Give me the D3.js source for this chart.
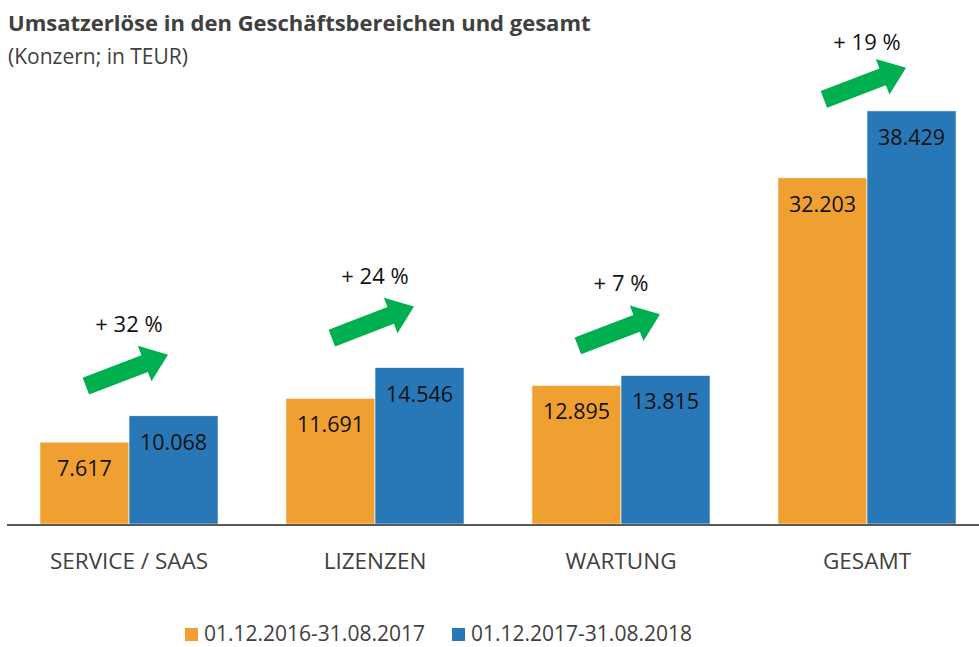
<!DOCTYPE html>
<html>
<head>
<meta charset="utf-8">
<script src="https://cdn.jsdelivr.net/npm/d3@7"></script>
<style>
  body { margin: 0; background: #fff; }
  svg text { font-family: "Open Sans", "Noto Sans", sans-serif; }
</style>
</head>
<body>
<svg id="chart" width="979" height="647"></svg>
<script>
// Daten
const categories = ["SERVICE / SAAS", "LIZENZEN", "WARTUNG", "GESAMT"]
const seriesNames = ["01.12.2016-31.08.2017", "01.12.2017-31.08.2018"]
const values2017 = [7617, 11691, 12895, 32203]
const values2018 = [10068, 14546, 13815, 38429]

const colors = ["#F0A030", "#2878B8"]
const fmt = d3.formatLocale({ decimal: ",", thousands: ".", grouping: [3], currency: ["", "€"] }).format(",d")

const svg = d3.select("#chart")
const baseY = 524

// Skalen
const x0 = d3.scaleBand()
  .domain(categories)
  .range([6, 990])
  .paddingInner(0.276)
  .paddingOuter(0.138)

const x1 = d3.scaleBand()
  .domain([0, 1])
  .range([0, x0.bandwidth()])

const y = d3.scaleLinear()
  .domain([0, 40000])
  .range([baseY, baseY - 430])

const rows = categories.map((c, i) => ({ cat: c, vals: [values2017[i], values2018[i]] }))

// Titel
svg.append("text")
  .attr("x", 8).attr("y", 31)
  .attr("font-size", 22).attr("font-weight", "bold")
  .attr("fill", "#404040")
  .text("Umsatzerlöse in den Geschäftsbereichen und gesamt")
svg.append("text")
  .attr("x", 8).attr("y", 64)
  .attr("font-size", 21)
  .attr("fill", "#404040")
  .text("(Konzern; in TEUR)")

// Balken
const groups = svg.selectAll("g.grp")
  .data(rows)
  .enter()
  .append("g")
  .attr("class", "grp")
  .attr("transform", d => "translate(" + x0(d.cat) + ",0)")

groups.selectAll("rect")
  .data(d => d.vals.map((v, k) => ({ v, k })))
  .enter()
  .append("rect")
  .attr("x", d => x1(d.k))
  .attr("y", d => y(d.v))
  .attr("width", x1.bandwidth())
  .attr("height", d => baseY - y(d.v))
  .attr("fill", d => colors[d.k])
  .attr("stroke", "#fff")
  .attr("stroke-width", 0.6)

groups.selectAll("text.val")
  .data(d => d.vals.map((v, k) => ({ v, k })))
  .enter()
  .append("text")
  .attr("class", "val")
  .attr("x", d => x1(d.k) + x1.bandwidth() / 2)
  .attr("y", d => y(d.v) + 34)
  .attr("text-anchor", "middle")
  .attr("font-size", 21.5)
  .attr("fill", "#111")
  .text(d => fmt(d.v))

// Achse
svg.append("line")
  .attr("x1", 7).attr("x2", 979)
  .attr("y1", baseY + 1).attr("y2", baseY + 1)
  .attr("stroke", "#595959")
  .attr("stroke-width", 2)

const xAxis = svg.append("g")
  .attr("transform", "translate(0," + baseY + ")")
  .call(d3.axisBottom(x0).tickSize(0))
xAxis.select(".domain").remove()
xAxis.selectAll("text")
  .attr("y", 45)
  .attr("dy", 0)
  .attr("font-size", 22.5)
  .attr("fill", "#404040")
  .style("font-family", "'Open Sans', 'Noto Sans', sans-serif")

// Pfeile mit Zuwachs
const arrowPath = "M-43,-9 L20,-9 L20,-19 L45,0 L20,19 L20,9 L-43,9 Z"
rows.forEach((d, i) => {
  const cx = x0(d.cat) + x0.bandwidth() / 2
  const topY = y(d.vals[1])
  const ay = Math.max(topY - 45, 84)
  const ty = Math.max(topY - 84, 50)
  const pct = Math.round((d.vals[1] / d.vals[0] - 1) * 100)
  svg.append("path")
    .attr("d", arrowPath)
    .attr("fill", "#00B050")
    .attr("transform", "translate(" + (cx - 3) + "," + ay + ") rotate(-21)")
  svg.append("text")
    .attr("x", cx)
    .attr("y", ty)
    .attr("text-anchor", "middle")
    .attr("font-size", 22)
    .attr("fill", "#111")
    .attr("xml:space", "preserve")
    .style("white-space", "pre")
    .text("+ " + pct + " %")
})

// Legende
seriesNames.forEach((s, k) => {
  const lx = 185 + k * 267
  svg.append("rect")
    .attr("x", lx).attr("y", 628)
    .attr("width", 13).attr("height", 13)
    .attr("fill", colors[k])
  svg.append("text")
    .attr("x", lx + 19).attr("y", 641)
    .attr("font-size", 21)
    .attr("fill", "#404040")
    .text(s)
})
</script>
</body>
</html>
